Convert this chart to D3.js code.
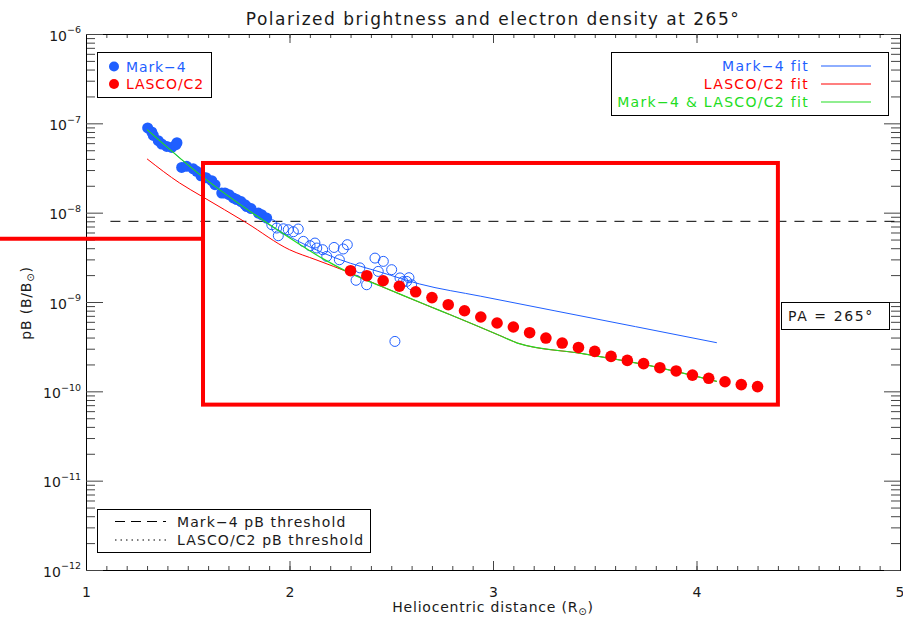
<!DOCTYPE html>
<html>
<head>
<meta charset="utf-8">
<script src="https://cdn.jsdelivr.net/npm/d3@7"></script>
<style>
  body { margin: 0; background: #fff; }
  text { font-family: "DejaVu Sans", sans-serif; }
</style>
</head>
<body>
<svg id="chart" width="903" height="617"></svg>
<script>
// Mark-4 pB samples (filled above threshold, open below it)
var m4X = [1.303, 1.323, 1.331, 1.355, 1.372, 1.397, 1.421, 1.442, 1.447, 1.470, 1.495, 1.527, 1.544, 1.565,
  1.590, 1.618, 1.634, 1.667, 1.683, 1.703, 1.724, 1.741, 1.762, 1.781, 1.790, 1.811, 1.847, 1.863, 1.888,
  1.913, 1.937, 1.945, 1.970, 1.994, 2.019, 2.043, 2.068, 2.101, 2.125, 2.134, 2.163, 2.183, 2.219, 2.245,
  2.264, 2.284, 2.327, 2.346, 2.379, 2.420, 2.436, 2.461, 2.502, 2.518, 2.543, 2.558, 2.576, 2.587, 2.600];
var m4Y = [8.87e-8, 8.0e-8, 7.33e-8, 6.39e-8, 5.87e-8, 5.52e-8, 5.38e-8, 5.77e-8, 6.07e-8, 3.21e-8, 3.30e-8,
  3.10e-8, 2.90e-8, 2.59e-8, 2.46e-8, 2.28e-8, 2.06e-8, 1.66e-8, 1.66e-8, 1.59e-8, 1.46e-8, 1.40e-8, 1.33e-8,
  1.23e-8, 1.17e-8, 1.11e-8, 9.9e-9, 9.5e-9, 8.7e-9,
  7.33e-9, 6.73e-9, 5.52e-9, 6.6e-9, 6.44e-9, 6.12e-9, 6.56e-9, 4.77e-9, 4.27e-9, 4.57e-9, 4.02e-9, 3.85e-9,
  3.24e-9, 4.08e-9, 2.97e-9, 3.92e-9, 4.38e-9, 1.75e-9, 2.41e-9, 1.56e-9, 3.1e-9, 2.2e-9, 2.85e-9, 2.30e-9,
  3.62e-10, 1.86e-9, 1.69e-9, 1.70e-9, 1.87e-9, 1.56e-9];

// LASCO/C2 pB samples
var c2X = [2.30, 2.38, 2.46, 2.54, 2.62, 2.70, 2.78, 2.86, 2.94, 3.02, 3.10, 3.18, 3.26, 3.34, 3.42, 3.50,
  3.58, 3.66, 3.74, 3.82, 3.90, 3.98, 4.06, 4.14, 4.22, 4.30];
var c2Y = [2.24e-9, 1.97e-9, 1.73e-9, 1.50e-9, 1.30e-9, 1.12e-9, 9.33e-10, 7.98e-10, 6.79e-10, 5.82e-10,
  5.25e-10, 4.53e-10, 3.95e-10, 3.47e-10, 3.10e-10, 2.80e-10, 2.46e-10, 2.22e-10, 2.04e-10, 1.84e-10,
  1.69e-10, 1.52e-10, 1.40e-10, 1.28e-10, 1.19e-10, 1.13e-10];

// fits
var m4FitX = [1.30, 1.45, 1.60, 1.75, 1.90, 2.05, 2.25, 2.45, 2.64, 2.94, 3.30, 3.70, 4.10];
var m4FitY = [8.6e-8, 4.3e-8, 2.2e-8, 1.29e-8, 7.3e-9, 4.7e-9, 2.97e-9, 2.15e-9, 1.59e-9, 1.16e-9, 8.0e-10, 5.3e-10, 3.5e-10];
var c2FitX = [1.30, 1.46, 1.57, 1.79, 2.00, 2.13, 2.30, 2.45, 2.69, 2.79, 3.05, 3.12, 3.44, 3.77, 4.10];
var c2FitY = [4.0e-8, 2.15e-8, 1.52e-8, 7.66e-9, 3.85e-9, 2.97e-9, 2.11e-9, 1.5e-9, 8.9e-10, 7.2e-10, 4.06e-10, 3.47e-10, 2.64e-10, 1.94e-10, 1.29e-10];
var bothFitX = [1.30, 1.57, 1.89, 2.17, 2.33, 2.45, 2.69, 2.79, 3.05, 3.12, 3.44, 3.77, 4.10];
var bothFitY = [8.5e-8, 2.55e-8, 7.66e-9, 3.0e-9, 1.94e-9, 1.5e-9, 8.9e-10, 7.2e-10, 4.06e-10, 3.47e-10, 2.64e-10, 1.94e-10, 1.29e-10];

var m4Threshold = 8e-9;
var thresholdX = [1.12, 5];
var xTicks = [1, 2, 3, 4, 5];
var yDecades = [-12, -11, -10, -9, -8, -7, -6];

// highlight box drawn over the plot (data coords)
var boxX = [1.575, 4.40];
var boxY = [3.6e-8, 7.1e-11];
var leaderY = 5.1e-9;

var BLUE = "#1f5fff", RED = "#ff0000", GREEN = "#22dd22", INK = "#1a1a1a";

var svg = d3.select("#chart");
// note: "top" is a reserved window property, so use a margin object
var plot = { l: 86, r: 900, t: 34, b: 570 };

var x = d3.scaleLinear().domain([1, 5]).range([plot.l, plot.r]);
var y = d3.scaleLog().domain([1e-12, 1e-6]).range([plot.b, plot.t]);

var minorX = d3.range(10, 51).map(function(d) { return d / 10; });
var majorY = yDecades.map(function(e) { return Math.pow(10, e); });
var minorY = [];
yDecades.slice(0, -1).forEach(function(e) {
  for (var k = 2; k < 10; k++) minorY.push(k * Math.pow(10, e));
});

// axes - IDL style, ticks pointing in
function styleAxis(g) {
  g.selectAll("line").attr("stroke", "#444");
  g.select(".domain").attr("stroke", "#000");
}
svg.append("g").attr("transform", "translate(0," + plot.b + ")")
  .call(d3.axisBottom(x).tickValues(minorX).tickSize(-4).tickSizeOuter(0).tickFormat(""))
  .call(styleAxis);
svg.append("g").attr("transform", "translate(0," + plot.t + ")")
  .call(d3.axisTop(x).tickValues(minorX).tickSize(-4).tickSizeOuter(0).tickFormat(""))
  .call(styleAxis);
svg.append("g").attr("transform", "translate(0," + plot.b + ")")
  .call(d3.axisBottom(x).tickValues(xTicks).tickSize(-9).tickSizeOuter(0).tickPadding(17).tickFormat(d3.format("d")))
  .call(styleAxis)
  .call(function(g) {
    g.selectAll("text").attr("font-size", 14).attr("fill", INK).attr("font-family", "DejaVu Sans");
    g.selectAll("text").filter(function(d) { return d === 5; }).attr("text-anchor", "end").attr("dx", 4);
  });
svg.append("g").attr("transform", "translate(0," + plot.t + ")")
  .call(d3.axisTop(x).tickValues(xTicks).tickSize(-9).tickSizeOuter(0).tickFormat(""))
  .call(styleAxis);

svg.append("g").attr("transform", "translate(" + plot.l + ",0)")
  .call(d3.axisLeft(y).tickValues(minorY).tickSize(-9).tickSizeOuter(0).tickFormat(""))
  .call(styleAxis);
svg.append("g").attr("transform", "translate(" + plot.r + ",0)")
  .call(d3.axisRight(y).tickValues(minorY).tickSize(-9).tickSizeOuter(0).tickFormat(""))
  .call(styleAxis);
svg.append("g").attr("transform", "translate(" + plot.r + ",0)")
  .call(d3.axisRight(y).tickValues(majorY).tickSize(-16).tickSizeOuter(0).tickFormat(""))
  .call(styleAxis);
var yAx = svg.append("g").attr("transform", "translate(" + plot.l + ",0)")
  .call(d3.axisLeft(y).tickValues(majorY).tickSize(-17).tickSizeOuter(0).tickFormat(""))
  .call(styleAxis);
yAx.selectAll(".tick text").each(function(d) {
  var t = d3.select(this).attr("font-size", 14).attr("fill", INK).attr("font-family", "DejaVu Sans")
    .attr("x", -5).attr("dy", "0.45em");
  t.append("tspan").text("10");
  t.append("tspan").attr("font-size", 9.5).attr("dy", "-0.8em").text("\u2212" + Math.round(-Math.log10(d)));
});

// threshold
svg.append("line")
  .attr("x1", x(thresholdX[0])).attr("x2", x(thresholdX[1]))
  .attr("y1", y(m4Threshold)).attr("y2", y(m4Threshold))
  .attr("stroke", "#000").attr("stroke-dasharray", "10,8");

// fit lines
var line = d3.line().x(function(d) { return x(d[0]); }).y(function(d) { return y(d[1]); }).curve(d3.curveMonotoneX);
function addFit(xs, ys, col, w) {
  svg.append("path").datum(d3.zip(xs, ys)).attr("d", line)
    .attr("fill", "none").attr("stroke", col).attr("stroke-width", w);
}
addFit(m4FitX, m4FitY, BLUE, 1);
addFit(c2FitX, c2FitY, RED, 1);

// data points
var m4 = d3.zip(m4X, m4Y);
svg.append("g").selectAll("circle").data(m4).enter().append("circle")
  .attr("cx", function(d) { return x(d[0]); })
  .attr("cy", function(d) { return y(d[1]); })
  .attr("r", function(d) { return d[1] > m4Threshold ? 5.5 : 5; })
  .attr("fill", function(d) { return d[1] > m4Threshold ? BLUE : "none"; })
  .attr("stroke", BLUE)
  .attr("stroke-width", function(d) { return d[1] > m4Threshold ? 0 : 1; });

addFit(bothFitX, bothFitY, GREEN, 1.2);

svg.append("g").selectAll("circle").data(d3.zip(c2X, c2Y)).enter().append("circle")
  .attr("cx", function(d) { return x(d[0]); })
  .attr("cy", function(d) { return y(d[1]); })
  .attr("r", 5.8).attr("fill", RED);

// title and axis labels
svg.append("text").attr("x", 493).attr("y", 25).attr("text-anchor", "middle").attr("fill", INK)
  .attr("font-size", 17).attr("letter-spacing", 1.5).text("Polarized brightness and electron density at 265\u00b0");

var xl = svg.append("text").attr("x", 493).attr("y", 612).attr("text-anchor", "middle")
  .attr("font-size", 14).attr("letter-spacing", 0.8).attr("fill", INK);
xl.append("tspan").text("Heliocentric distance (R");
xl.append("tspan").attr("font-size", 10).attr("dy", 3).text("\u2299");
xl.append("tspan").attr("dy", -3).text(")");

var yl = svg.append("text").attr("transform", "translate(31,303) rotate(-90)").attr("text-anchor", "middle")
  .attr("font-size", 14).attr("letter-spacing", 0.8).attr("fill", INK);
yl.append("tspan").text("pB (B/B");
yl.append("tspan").attr("font-size", 10).attr("dy", 3).text("\u2299");
yl.append("tspan").attr("dy", -3).text(")");

// legend: data
var lg1 = svg.append("g");
lg1.append("rect").attr("x", 97.5).attr("y", 52.5).attr("width", 114).attr("height", 45)
  .attr("fill", "#fff").attr("stroke", "#000");
[["Mark-4", BLUE], ["LASCO/C2", RED]].forEach(function(r, i) {
  lg1.append("circle").attr("cx", 114).attr("cy", 66.5 + i * 17.5).attr("r", 5).attr("fill", r[1]);
  lg1.append("text").attr("x", 126).attr("y", 71.5 + i * 17.5).attr("font-size", 14).attr("fill", r[1])
    .attr("letter-spacing", 0.9).text(r[0].replace("-", "\u2212"));
});

// legend: fits
var lg2 = svg.append("g");
lg2.append("rect").attr("x", 611.5).attr("y", 52.5).attr("width", 277).attr("height", 63)
  .attr("fill", "#fff").attr("stroke", "#000");
[["Mark-4 fit", BLUE], ["LASCO/C2 fit", RED], ["Mark-4 & LASCO/C2 fit", GREEN]].forEach(function(r, i) {
  var yy = 66 + i * 18;
  lg2.append("text").attr("x", 809).attr("y", yy + 5).attr("text-anchor", "end").attr("font-size", 14)
    .attr("letter-spacing", 1.3).attr("fill", r[1]).text(r[0].replace("-", "\u2212"));
  lg2.append("line").attr("x1", 821).attr("x2", 871).attr("y1", yy).attr("y2", yy)
    .attr("stroke", r[1]).attr("stroke-width", 1.2);
});

// legend: thresholds
var lg3 = svg.append("g");
lg3.append("rect").attr("x", 97.5).attr("y", 509.5).attr("width", 273).attr("height", 43)
  .attr("fill", "#fff").attr("stroke", "#000");
[["Mark-4 pB threshold", "10,6"], ["LASCO/C2 pB threshold", "1.5,4"]].forEach(function(r, i) {
  var yy = 521.5 + i * 18.5;
  lg3.append("line").attr("x1", 115).attr("x2", 166).attr("y1", yy).attr("y2", yy)
    .attr("stroke", "#000").attr("stroke-dasharray", r[1]);
  lg3.append("text").attr("x", 177).attr("y", yy + 5).attr("font-size", 14).attr("letter-spacing", 1.1)
    .attr("fill", INK).text(r[0].replace("-", "\u2212"));
});

// PA label
svg.append("rect").attr("x", 781.5).attr("y", 302.5).attr("width", 108).attr("height", 27)
  .attr("fill", "#fff").attr("stroke", "#000");
svg.append("text").attr("x", 788).attr("y", 321).attr("font-size", 14).attr("letter-spacing", 1.6)
  .attr("fill", INK).text("PA = 265\u00b0");

// red highlight overlay
svg.append("rect")
  .attr("x", x(boxX[0])).attr("y", y(boxY[0]))
  .attr("width", x(boxX[1]) - x(boxX[0])).attr("height", y(boxY[1]) - y(boxY[0]))
  .attr("fill", "none").attr("stroke", RED).attr("stroke-width", 4);
svg.append("line").attr("x1", 0).attr("x2", x(boxX[0]))
  .attr("y1", y(leaderY)).attr("y2", y(leaderY))
  .attr("stroke", RED).attr("stroke-width", 4);
</script>
</body>
</html>
